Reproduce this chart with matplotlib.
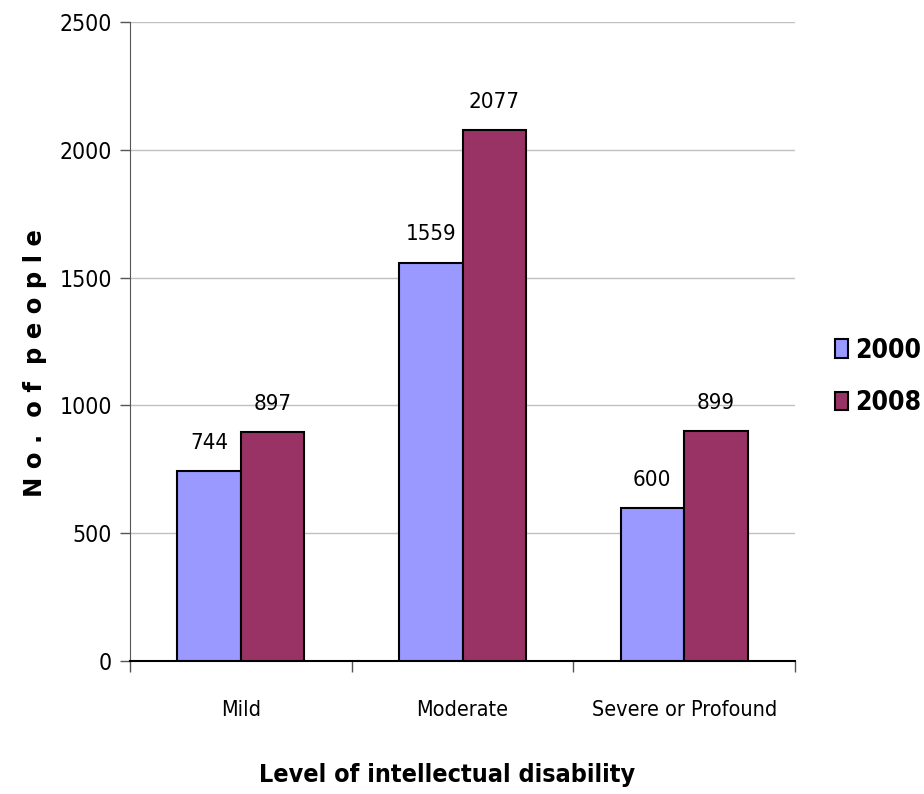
import matplotlib
matplotlib.use("Agg")
import matplotlib.pyplot as plt
import numpy as np
from matplotlib.patches import Patch

categories = ["Mild", "Moderate", "Severe or Profound"]
series_names = ["2000", "2008"]
values_2000 = [744, 1559, 600]
values_2008 = [897, 2077, 899]
colors = ["#9999FF", "#993366"]

plt.rcParams["font.family"] = ["DejaVu Sans"]
plt.rcParams["font.stretch"] = "condensed"

fig = plt.figure(figsize=(9.24, 7.94), dpi=100)
ax = fig.add_axes([130/924, 1-661/794, (795-130)/924, (661-22)/794])

x = np.arange(len(categories))
w = 0.287
for i, (vals, c) in enumerate(zip([values_2000, values_2008], colors)):
    pos = x + (i - 0.5) * w
    bars = ax.bar(pos, vals, width=w, color=c, edgecolor="black", linewidth=1.5, zorder=3)
    for b, v in zip(bars, vals):
        ax.annotate(str(v), (b.get_x() + b.get_width()/2, v), xytext=(0, 13),
                    textcoords="offset points", ha="center", va="bottom", fontsize=16)

ax.set_xlim(-0.5, 2.5)
ax.set_ylim(0, 2500)
ax.set_yticks(np.arange(0, 2501, 500))
ax.set_xticks(x)
ax.set_xticklabels(categories, fontsize=15.5)
ax.tick_params(axis="y", labelsize=16.5, direction="out", length=7, width=1, color="#555555", pad=6)
ax.tick_params(axis="x", length=0, pad=28)
ax.set_xticks([-0.5, 0.5, 1.5, 2.5], minor=True)
ax.tick_params(axis="x", which="minor", length=8, width=1, color="#555555")
ax.yaxis.grid(True, color="#c0c0c0", linewidth=1, zorder=0)
ax.set_axisbelow(True)
for s in ["top", "right"]:
    ax.spines[s].set_visible(False)
ax.spines["left"].set_color("#555555")
ax.spines["bottom"].set_color("black")
ax.spines["bottom"].set_linewidth(1.5)

fig.text(35/924, 1-363/794, "N o .  o f  p e o p l e", rotation=90, ha="center", va="center",
         fontsize=17.5, fontweight="bold", fontstretch="normal")
fig.text(447/924, 1-775/794, "Level of intellectual disability", ha="center", va="center",
         fontsize=18, fontweight="bold")

handles = [Patch(facecolor=c, edgecolor="black", linewidth=1.5) for c in colors]
leg = fig.legend(handles, series_names, loc="center left", bbox_to_anchor=(835/924, 1-377/794),
                 frameon=False, prop={"size": 19, "weight": "bold"}, handlelength=0.5,
                 handleheight=0.7, handletextpad=0.25, labelspacing=1.0, borderpad=0, borderaxespad=0)

fig.savefig("out.png", dpi=100)
